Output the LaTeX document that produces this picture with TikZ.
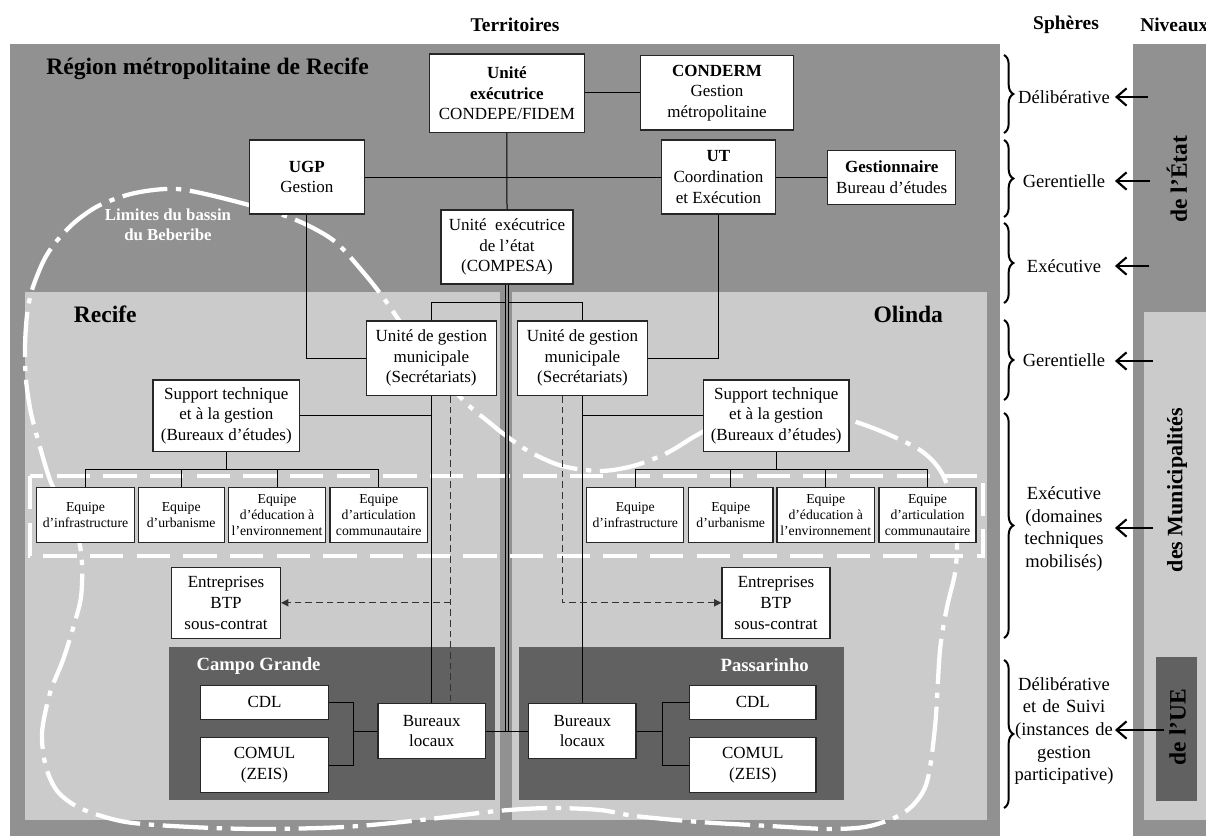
\documentclass[tikz,border=0pt]{standalone}
\usepackage{fontspec}
\setmainfont{Liberation Serif}
\usetikzlibrary{arrows.meta,decorations.pathreplacing,calc}
\definecolor{dgray}{RGB}{145,145,145}
\definecolor{lgray}{RGB}{203,203,203}
\definecolor{vdgray}{RGB}{97,97,97}
\tikzset{
  box/.style={draw=black!85, line width=0.9pt, fill=white, inner sep=0pt, align=center,
              font=\fontsize{12.75}{15.5}\selectfont},
  sz/.style 2 args={minimum width=#1*0.75pt, minimum height=#2*0.75pt},
  eqbox/.style={box, font=\fontsize{10.3}{12}\selectfont, minimum height=55*0.75pt},
  conn/.style={line width=0.75pt, black},
  dbl/.style={line width=0.6pt, black, double=dgray, double distance=1.2pt},
  dconn/.style={line width=0.75pt, black!80, dash pattern=on 5pt off 3pt},
  tipd/.style={-{Triangle[length=5.5pt,width=5.5pt]}},
  hdbig/.style={inner sep=0pt, font=\fontsize{17.7}{20}\selectfont\bfseries},
  hdtop/.style={inner sep=0pt, font=\fontsize{14.6}{17}\selectfont\bfseries},
  wlab/.style={inner sep=0pt, text=white, align=center},
  sph/.style={inner sep=0pt, align=center, text width=76pt, font=\fontsize{13.9}{17}\selectfont},
  sarr/.style={line width=1.6pt, -{Straight Barb[length=7.5pt,width=13pt]}},
  brc/.style={decorate, decoration={brace, amplitude=7pt}, line width=1.5pt},
  lvl/.style={inner sep=0pt, rotate=90, font=\fontsize{17.6}{20}\selectfont\bfseries},
  bassin/.style={white, line width=3.2pt, dash pattern=on 34pt off 6.5pt on 4pt off 6.5pt},
  wdash/.style={white, line width=2.8pt, dash pattern=on 25pt off 10pt}
}
\begin{document}
\begin{tikzpicture}[x=0.75pt,y=-0.75pt]
\useasboundingbox (0,0) rectangle (1206,836);
% ---------- backgrounds ----------
\fill[dgray] (10,44) rectangle (1000,836);
\fill[lgray] (24.5,292.3) rectangle (500.2,819.5);
\fill[lgray] (511.7,292.3) rectangle (986.7,820);
\fill[vdgray] (168.8,647.3) rectangle (494.8,800);
\fill[vdgray] (519,646.7) rectangle (844.4,800);
\fill[dgray] (1132.7,44) rectangle (1230,836);
\fill[lgray] (1144,312) rectangle (1230,820);
\fill[vdgray] (1156,657.3) rectangle (1196.5,800.7);
% ---------- basin limit ----------
\draw[bassin] plot[smooth cycle, tension=0.5] coordinates {
 (177,189) (230,200) (291,218) (333,240) (363,272) (385,300) (420,350) (463,400)
 (490,423) (505,435) (530,452) (562,466) (600,471) (633,466) (667,453) (697,435)
 (740,413) (775,405) (810,409) (850,420) (883,432) (920,450) (940,470) (952,500)
 (957,540) (955,573) (947,607) (940,650) (935,727) (926,785) (905,812) (870,826)
 (830,829) (770,826) (700,822) (635,816) (600,810) (550,808) (497,811) (421,820)
 (344,827) (260,829) (191,827) (126,822) (82,809) (58,792) (46,767) (42,733)
 (50,693) (63,660) (74,625) (81,597) (82,563) (77,533) (62,505) (50,480)
 (40,447) (31,413) (26,380) (25,347) (27,315) (32,290) (43,262) (55,243)
 (75,222) (100,205) (135,193)};
\draw[wdash] (30,476) rectangle (983.3,556);
% ---------- headings ----------
\node[hdtop] (hterr) at (515,25) {Territoires};
\node[hdtop] (hsph) at (1066,25) {Sphères};
\node[hdtop, anchor=west] (hniv) at (1140,25) {Niveaux};
\node[hdbig, anchor=west] (hrmr) at (46,69) {Région métropolitaine de Recife};
\node[hdbig, anchor=west] (hrec) at (73.5,314.3) {Recife};
\node[hdbig, anchor=east] (holi) at (943.3,314.3) {Olinda};
\node[wlab, font=\fontsize{14}{16}\selectfont\bfseries, anchor=west] (hcg) at (196.3,666) {Campo Grande};
\node[wlab, font=\fontsize{14}{16}\selectfont\bfseries] (hpas) at (764.7,665.3) {Passarinho};
\node[wlab, font=\fontsize{12.6}{15}\selectfont\bfseries] (hlim) at (168,225) {Limites du bassin\\du Beberibe};
% ---------- boxes ----------
\node[box, sz={155}{78.3}] (unite) at (506.9,93.2) {\textbf{Unité}\\\textbf{exécutrice}\\CONDEPE/FIDEM};
\node[box, sz={153.5}{74.3}] (conderm) at (717,92.9) {\textbf{CONDERM}\\Gestion\\métropolitaine};
\node[box, sz={114.8}{74}] (ugp) at (306.9,177) {\textbf{UGP}\\Gestion};
\node[box, sz={113.3}{74}] (ut) at (718.5,177) {\textbf{UT}\\Coordination\\et Exécution};
\node[box, sz={127.9}{53.6}] (gest) at (891.7,177.5) {\textbf{Gestionnaire}\\Bureau d’études};
\node[box, sz={132}{74}] (compesa) at (507,247) {Unité~ exécutrice\\de l’état\\(COMPESA)};
\node[box, sz={130.2}{74.5}] (ugmL) at (431.3,358.2) {Unité de gestion\\municipale\\(Secrétariats)};
\node[box, sz={130.4}{74.5}] (ugmR) at (582.5,358.2) {Unité de gestion\\municipale\\(Secrétariats)};
\node[box, sz={146.7}{71.3}] (supL) at (226.3,415.7) {Support technique\\et à la gestion\\(Bureaux d’études)};
\node[box, sz={145.7}{71.3}] (supR) at (776.2,415.7) {Support technique\\et à la gestion\\(Bureaux d’études)};
\node[eqbox, sz={97.6}{55}] (eqL1) at (85.5,515) {Equipe\\d’infrastructure};
\node[eqbox, sz={86.1}{55}] (eqL2) at (181.2,515) {Equipe\\d’urbanisme};
\node[eqbox, sz={97.2}{55}] (eqL3) at (277.1,515) {Equipe\\d’éducation à\\l’environnement};
\node[eqbox, sz={97.6}{55}] (eqL4) at (378.7,515) {Equipe\\d’articulation\\communautaire};
\node[eqbox, sz={97}{55}] (eqR1) at (635.2,515) {Equipe\\d’infrastructure};
\node[eqbox, sz={84.7}{55}] (eqR2) at (730.7,515) {Equipe\\d’urbanisme};
\node[eqbox, sz={97.3}{55}] (eqR3) at (825.7,515) {Equipe\\d’éducation à\\l’environnement};
\node[eqbox, sz={97}{55}] (eqR4) at (927.5,515) {Equipe\\d’articulation\\communautaire};
\node[box, sz={109}{71}] (entL) at (226,602.8) {Entreprises\\BTP\\sous-contrat};
\node[box, sz={108}{71}] (entR) at (776,602.8) {Entreprises\\BTP\\sous-contrat};
\node[box, sz={128}{34}] (cdlL) at (264.5,702.3) {CDL};
\node[box, sz={128}{55.4}] (comL) at (264.5,765) {COMUL\\(ZEIS)};
\node[box, sz={126.4}{34}] (cdlR) at (752.8,702.3) {CDL};
\node[box, sz={126.4}{55.4}] (comR) at (752.8,765) {COMUL\\(ZEIS)};
\node[box, sz={107.3}{54.6}] (burL) at (431.7,731) {Bureaux\\locaux};
\node[box, sz={107.2}{54.6}] (burR) at (582.4,731) {Bureaux\\locaux};
% ---------- connectors ----------
\draw[conn] (unite.south) -- (compesa.north);
\draw[conn] (conderm.west) -- (conderm.west -| unite.east);
\draw[conn] (ugp.east) -- (ut.west);
\draw[conn] (ut.east) -- (ut.east -| gest.west);
\draw[conn] (ugp.south) |- (ugmL.west);
\draw[conn] (ut.south) |- (ugmR.east);
\coordinate (split) at (507,302.7);
\draw[conn] (ugmL.north) |- (split) -| (ugmR.north);
\draw[dbl] (compesa.south) -- (compesa.south |- burL.east);
\draw[conn] (burL.east) -- (burR.west);
\draw[conn] (ugmL.south) -- (ugmL.south |- burL.north);
\draw[conn] (ugmR.south) -- (ugmR.south |- burR.north);
\draw[conn] (supL.east) -- (supL.east -| ugmL.south);
\draw[conn] (supR.west) -- (supR.west -| ugmR.south);
\coordinate (bar) at (0,469.3);
\draw[conn] (supL.south) -- (supL.south |- bar);
\draw[conn] (eqL1.north) -- (eqL1.north |- bar) -- (eqL4.north |- bar) -- (eqL4.north);
\draw[conn] (eqL2.north) -- (eqL2.north |- bar);
\draw[conn] (eqL3.north) -- (eqL3.north |- bar);
\draw[conn] (supR.south) -- (supR.south |- bar);
\draw[conn] (eqR1.north) -- (eqR1.north |- bar) -- (eqR4.north |- bar) -- (eqR4.north);
\draw[conn] (eqR2.north) -- (eqR2.north |- bar);
\draw[conn] (eqR3.north) -- (eqR3.north |- bar);
\coordinate (dL) at ($(ugmL.south)+(19.5,0)$);
\coordinate (dR) at ($(ugmR.south)+(-19.8,0)$);
\draw[dconn] (dL) -- (dL |- burL.north);
\draw[dconn, tipd] (dL |- entL.east) -- (entL.east);
\draw[dconn, tipd] (dR) |- (entR.west);
\coordinate (jL) at ($(cdlL.east)!0.5!(burL.west)$);
\draw[conn] (cdlL.east) -| (jL |- comL.east) -- (comL.east);
\draw[conn] (jL |- burL.west) -- (burL.west);
\coordinate (jR) at ($(burR.east)!0.5!(cdlR.west)$);
\draw[conn] (cdlR.west) -| (jR |- comR.west) -- (comR.west);
\draw[conn] (burR.east) -- (jR |- burR.east);
% ---------- spheres ----------
\draw[brc] (1004,55) -- (1004,133);
\draw[brc] (1004,140) -- (1004,217);
\draw[brc] (1004,223) -- (1004,303);
\draw[brc] (1004,320) -- (1004,400);
\draw[brc] (1004,413) -- (1004,638);
\draw[brc] (1004,660) -- (1004,808);
\node[sph] (s1) at (1064,97) {Délibérative};
\node[sph] (s2) at (1064,181) {Gerentielle};
\node[sph] (s3) at (1064,266) {Exécutive};
\node[sph] (s4) at (1064,360) {Gerentielle};
\node[sph] (s5) at (1064,529) {Exécutive\\(domaines\\techniques\\mobilisés)};
\node[sph] (s6) at (1064,731) {Délibérative\\et de Suivi\\(instances de\\gestion\\participative)};
\coordinate (a1) at (1148,97);
\coordinate (a2) at (1150,181);
\coordinate (a3) at (1149,266);
\coordinate (a4) at (1153,361);
\coordinate (a5) at (1153,528);
\coordinate (a6) at (1164,730);
\draw[sarr] (a1) -- (a1 -| s1.east);
\draw[sarr] (a2) -- (a2 -| s2.east);
\draw[sarr] (a3) -- (a3 -| s3.east);
\draw[sarr] (a4) -- (a4 -| s4.east);
\draw[sarr] (a5) -- (a5 -| s5.east);
\draw[sarr] (a6) -- (a6 -| s6.east);
% ---------- levels ----------
\node[lvl] (lvE) at (1177,179) {de l’État};
\node[lvl, font=\fontsize{16.5}{20}\selectfont\bfseries] (lvM) at (1177,490) {des Municipalités};
\node[lvl] (lvU) at (1177.6,727) {de l’UE};
\end{tikzpicture}
\end{document}
